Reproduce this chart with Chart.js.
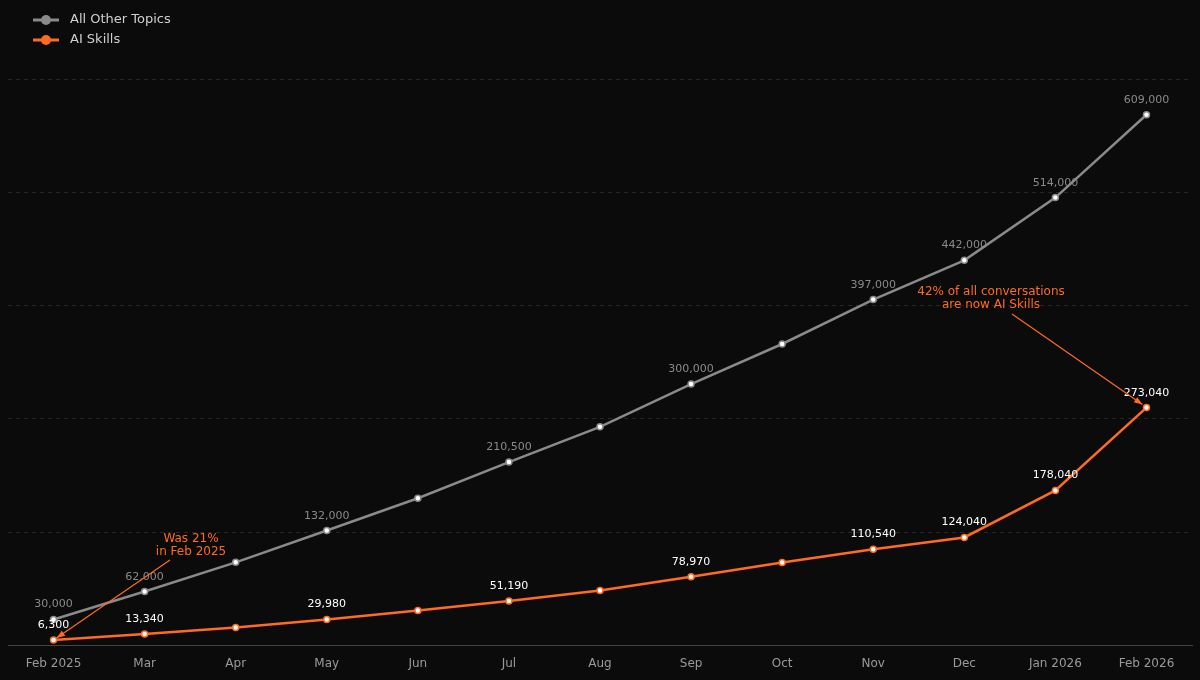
<!DOCTYPE html>
<html><head>
<script src="https://cdn.jsdelivr.net/npm/chart.js@4"></script>
<style>
  html, body { margin:0; background:#0b0b0b; }
  #wrap { width:1200px; height:680px; }
</style>
</head><body>
<div id="wrap"><canvas id="c"></canvas></div>
<script>
// ── data ──
const months = ['Feb 2025','Mar','Apr','May','Jun','Jul','Aug','Sep','Oct','Nov','Dec','Jan 2026','Feb 2026'];
const otherTopics = [30000, 62000, 95500, 132000, 169000, 210500, 251000, 300000, 346000, 397000, 442000, 514000, 609000];
const aiSkills = [6300, 13340, 20700, 29980, 40250, 51190, 63250, 78970, 95450, 110540, 124040, 178040, 273040];
const labelIdx = [0, 1, 3, 5, 7, 9, 10, 11, 12];

const GRAY = '#8a8a8a', ORANGE = '#ff6b22';
const fmt = v => v.toLocaleString('en-US');

// value labels, legend + annotations
const overlay = {
  id: 'overlay',
  afterDatasetsDraw(chart) {
    const ctx = chart.ctx;
    ctx.save();
    ctx.font = '11px "DejaVu Sans"';
    ctx.textAlign = 'center';
    chart.data.datasets.forEach((ds, di) => {
      const meta = chart.getDatasetMeta(di);
      ctx.fillStyle = di === 0 ? GRAY : '#ffffff';
      labelIdx.forEach(i => {
        const p = meta.data[i];
        ctx.fillText(fmt(ds.data[i]), p.x, p.y - 12);
      });
    });
    // legend
    ctx.textAlign = 'left'; ctx.textBaseline = 'middle';
    ctx.font = '13px "DejaVu Sans"';
    chart.data.datasets.forEach((ds, di) => {
      const y = 20 + di * 20;
      ctx.strokeStyle = ds.borderColor; ctx.lineWidth = 3;
      ctx.beginPath(); ctx.moveTo(33, y); ctx.lineTo(59, y); ctx.stroke();
      ctx.fillStyle = ds.borderColor;
      ctx.beginPath(); ctx.arc(46, y, 5, 0, Math.PI * 2); ctx.fill();
      ctx.fillStyle = '#d0d0d0';
      ctx.fillText(ds.label, 70, y);
    });
    ctx.textAlign = 'center'; ctx.textBaseline = 'alphabetic';
    const ai = chart.getDatasetMeta(1).data;
    const arrow = (x1, y1, x2, y2) => {
      ctx.strokeStyle = ORANGE; ctx.fillStyle = ORANGE; ctx.lineWidth = 1.2;
      ctx.beginPath(); ctx.moveTo(x1, y1); ctx.lineTo(x2, y2); ctx.stroke();
      const a = Math.atan2(y2 - y1, x2 - x1);
      ctx.beginPath(); ctx.moveTo(x2, y2);
      ctx.lineTo(x2 - 9 * Math.cos(a - 0.35), y2 - 9 * Math.sin(a - 0.35));
      ctx.lineTo(x2 - 9 * Math.cos(a + 0.35), y2 - 9 * Math.sin(a + 0.35));
      ctx.closePath(); ctx.fill();
    };
    ctx.font = '12px "DejaVu Sans"';
    ctx.fillStyle = ORANGE;
    ctx.fillText('Was 21%', 191, 542);
    ctx.fillText('in Feb 2025', 191, 555);
    arrow(170, 560, ai[0].x + 3, ai[0].y - 2);
    ctx.fillStyle = ORANGE;
    ctx.fillText('42% of all conversations', 991, 295);
    ctx.fillText('are now AI Skills', 991, 308);
    arrow(1012, 314, ai[12].x - 4, ai[12].y - 3);
    ctx.restore();
  }
};

const point = c => ({ pointRadius: 3, pointBackgroundColor: '#ffffff', pointBorderColor: c, pointBorderWidth: 1.5 });

new Chart(document.getElementById('c'), {
  type: 'line',
  data: {
    labels: months,
    datasets: [
      { label: 'All Other Topics', data: otherTopics, borderColor: GRAY, backgroundColor: GRAY, borderWidth: 2.5, ...point(GRAY) },
      { label: 'AI Skills', data: aiSkills, borderColor: ORANGE, backgroundColor: ORANGE, borderWidth: 2.5, ...point(ORANGE) }
    ]
  },
  options: {
    responsive: true, maintainAspectRatio: false, animation: false,
    layout: { padding: { left: 8, right: 8, top: 79, bottom: 6 } },
    plugins: {
      tooltip: { enabled: false },
      legend: { display: false }
    },
    scales: {
      x: {
        offset: true,
        grid: { display: false },
        border: { color: '#444' },
        ticks: { color: '#9a9a9a', font: { family: 'DejaVu Sans', size: 12 } }
      },
      y: {
        min: 0, max: 650000,
        ticks: { display: false, stepSize: 130000 },
        border: { display: false, dash: [4, 4] },
        grid: { color: '#262626', drawTicks: false }
      }
    }
  },
  plugins: [overlay]
});
</script>
</body></html>
